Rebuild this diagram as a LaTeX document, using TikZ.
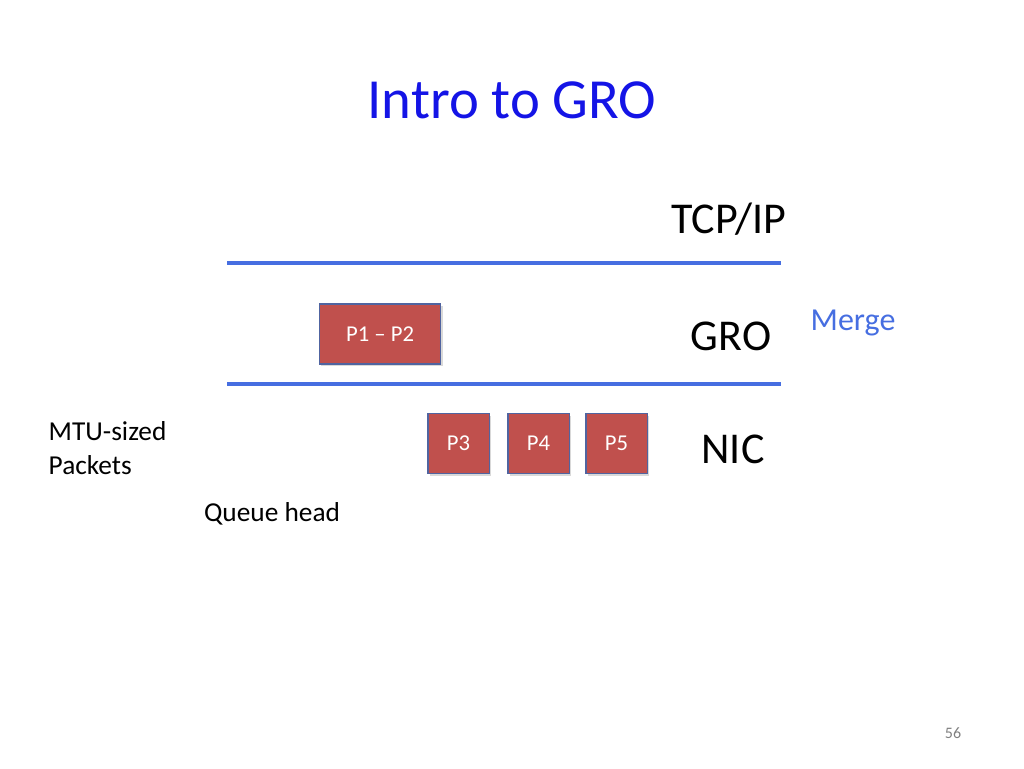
\documentclass[tikz,border=0pt]{standalone}
\usepackage{fontspec}
\setmainfont{Carlito}
\usetikzlibrary{positioning,shadows}
\definecolor{titleblue}{RGB}{20,20,230}
\definecolor{lineblue}{RGB}{70,110,225}
\definecolor{pktred}{RGB}{192,80,77}
\definecolor{pktedge}{RGB}{80,100,160}
\begin{document}
\begin{tikzpicture}[x=0.75pt,y=-0.75pt,
  pkt/.style={draw=pktedge, fill=pktred, line width=1pt, text=white, font=\fontsize{17}{20}\selectfont,
    minimum height=45pt, drop shadow={shadow xshift=1.5pt, shadow yshift=-1.5pt, opacity=0.3}},
  layer/.style={font=\fontsize{33}{38}\selectfont},
  sep/.style={draw=lineblue, line width=2.8pt}]
\useasboundingbox (0,0) rectangle (1024,768);

%Title
\node[text=titleblue, font=\fontsize{42.5}{50}\selectfont] (title) at (512,100) {Intro to GRO};

%Layers
\node[layer] (tcpip) at (729,219) {TCP/IP};
\node[layer] (gro) at (731,336) {GRO};
\node[layer] (nic) at (733,449) {NIC};
\node[text=lineblue, font=\fontsize{24}{28}\selectfont] (merge) at (853,323) {Merge};

%Lines
\coordinate (top1) at (227,263);
\coordinate (top2) at (781,263);
\coordinate (bot1) at (227,384);
\coordinate (bot2) at (781,384);
\draw[sep] (top1) -- (top2);
\draw[sep] (bot1) -- (bot2);

%Packets
\node[pkt, minimum width=91pt] (p12) at (380,334) {P1 -- P2};
\node[pkt, minimum width=46pt] (p3) at (458.5,443.5) {P3};
\node[pkt, minimum width=46pt] (p4) at (538.5,443.5) {P4};
\node[pkt, minimum width=46pt] (p5) at (616.5,443.5) {P5};

%Labels
\node[anchor=west, align=left, font=\fontsize{20.5}{25.5}\selectfont] (mtu) at (44,448) {MTU-sized\\Packets};
\node[font=\fontsize{20.5}{24}\selectfont] (qhead) at (272,514) {Queue head};
\node[text=gray, font=\fontsize{12}{14}\selectfont] (page) at (953,733) {56};
\end{tikzpicture}
\end{document}
